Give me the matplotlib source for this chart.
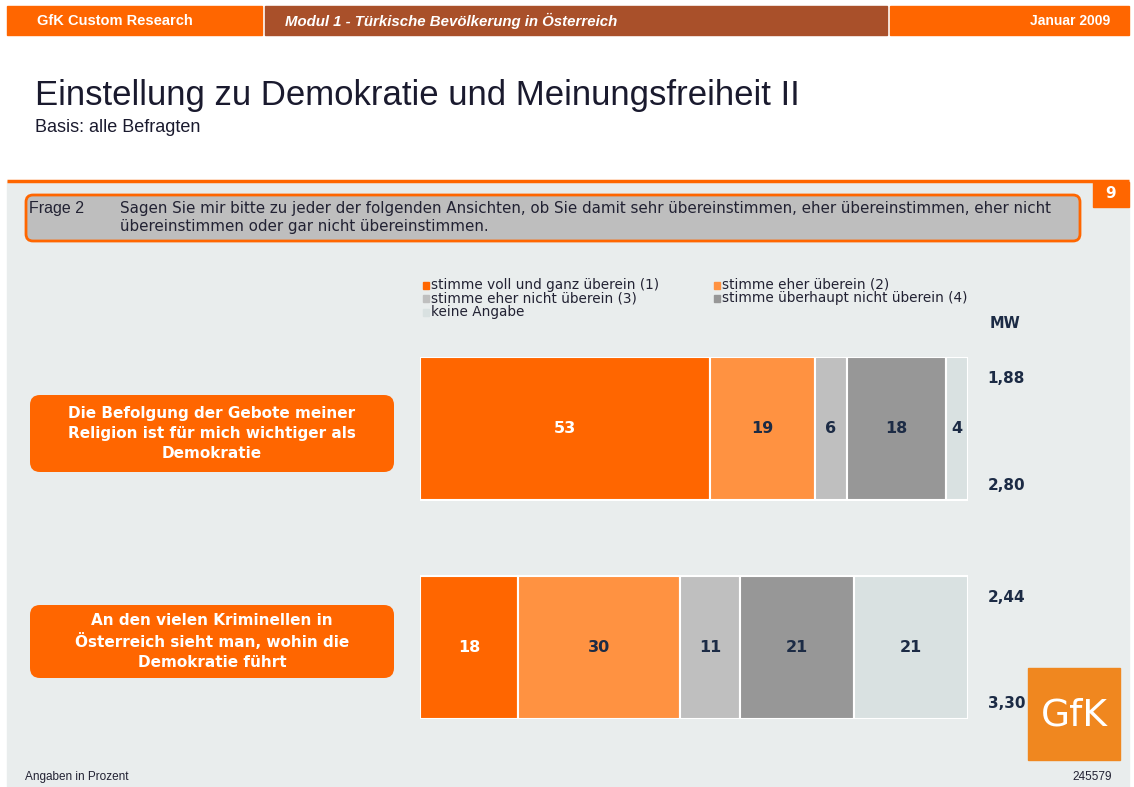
import numpy as np
import matplotlib
matplotlib.use("Agg")
import matplotlib.pyplot as plt
from matplotlib.patches import Rectangle, FancyBboxPatch
from matplotlib.transforms import blended_transform_factory
from matplotlib import font_manager

# ---------------- data ----------------
statements = [
    "Die Befolgung der Gebote meiner\nReligion ist für mich wichtiger als\nDemokratie",
    "An den vielen Kriminellen in\nÖsterreich sieht man, wohin die\nDemokratie führt",
]
categories = [
    "stimme voll und ganz überein (1)",
    "stimme eher überein (2)",
    "stimme eher nicht überein (3)",
    "stimme überhaupt nicht überein (4)",
    "keine Angabe",
]
values = [
    [53, 19, 6, 18, 4],
    [18, 30, 11, 21, 21],
]
mw_top = ["1,88", "2,44"]
mw_bottom = ["2,80", "3,30"]

colors = ["#FF6600", "#FF9241", "#BFBFBF", "#979797", "#D9E1E1"]
label_colors = ["white", "#1C2B45", "#1C2B45", "#1C2B45", "#1C2B45"]
ORANGE = "#FF6600"
BROWN = "#A9502A"
BG = "#E9EDED"
NAVY = "#1C2B45"

avail = {f.name for f in font_manager.fontManager.ttflist}
NARROW = "Liberation Sans Narrow" if "Liberation Sans Narrow" in avail else "Liberation Sans"
plt.rcParams["font.family"] = ["DejaVu Sans"]

W, H = 1134, 787
fig = plt.figure(figsize=(W / 100, H / 100), dpi=100)
fig.patch.set_facecolor("white")

# background / decoration axes in pixel coordinates
bg = fig.add_axes([0, 0, 1, 1])
bg.set_xlim(0, W); bg.set_ylim(H, 0); bg.axis("off")

# header strip
bg.add_patch(Rectangle((7, 6), 255, 29, color=ORANGE))
bg.add_patch(Rectangle((265, 6), 622, 29, color=BROWN))
bg.add_patch(Rectangle((890, 6), 239, 29, color=ORANGE))
bg.text(37, 21, "GfK Custom Research", color="white", fontsize=10.5, weight="bold",
        va="center", family=NARROW)
bg.text(285, 21, "Modul 1 - Türkische Bevölkerung in Österreich", color="white",
        fontsize=10.8, weight="bold", style="italic", va="center", family=NARROW)
bg.text(1110, 21, "Januar 2009", color="white", fontsize=10, weight="bold",
        va="center", ha="right", family=NARROW)

# title
bg.text(35, 95, "Einstellung zu Demokratie und Meinungsfreiheit II", fontsize=25,
        color="#1A1A2E", va="center", family=NARROW)
bg.text(35, 128, "Basis: alle Befragten", fontsize=13, color="#1A1A2E",
        va="center", family=NARROW)

# grey body + orange rule
bg.add_patch(Rectangle((7, 181), 1122, H - 181, color=BG))
bg.plot([7, 1129], [180.5, 180.5], color=ORANGE, lw=2.5, solid_capstyle="butt")
bg.add_patch(Rectangle((1093, 182), 36, 25, color=ORANGE))
bg.text(1111, 194, "9", color="white", fontsize=11, weight="bold", ha="center", va="center")

# question box
bg.add_patch(FancyBboxPatch((26, 195), 1054, 46, boxstyle="round,pad=0,rounding_size=7",
                            fc="#BEBEBE", ec=ORANGE, lw=2))
bg.text(29, 209, "Frage 2", fontsize=11.5, color="#222233", va="center", family=NARROW)
bg.text(120, 209, "Sagen Sie mir bitte zu jeder der folgenden Ansichten, ob Sie damit sehr "
        "übereinstimmen, eher übereinstimmen, eher nicht", fontsize=10.9, color="#222233",
        va="center")
bg.text(120, 226, "übereinstimmen oder gar nicht übereinstimmen.", fontsize=10.9,
        color="#222233", va="center")

# legend
leg_pos = [(423, 285), (714, 285), (423, 298), (714, 298), (423, 312)]
for (lx, ly), cat, col in zip(leg_pos, categories, colors):
    bg.add_patch(Rectangle((lx, ly - 3.5), 6, 7, color=col))
    bg.text(lx + 8, ly, cat, fontsize=9.8, color="#222233", va="center")

bg.text(990, 323, "MW", fontsize=10.5, weight="bold", color=NAVY, va="center")

# statement boxes
box_y = [(395, 77), (605, 73)]
for (by, bh), txt in zip(box_y, statements):
    bg.add_patch(FancyBboxPatch((30, by), 364, bh, boxstyle="round,pad=0,rounding_size=10",
                                fc=ORANGE, ec="none"))
    bg.text(212, by + bh / 2, txt, color="white", fontsize=11, weight="bold",
            ha="center", va="center", linespacing=1.4)

# footer
bg.text(25, 777, "Angaben in Prozent", fontsize=8.5, color="#222233", va="center",
        family=NARROW)
bg.text(1112, 777, "245579", fontsize=8.5, color="#222233", va="center", ha="right",
        family=NARROW)

# ---------------- bars ----------------
ax = fig.add_axes([420 / W, 1 - 719 / H, 548 / W, 362 / H])
ax.set_xlim(0, 100)
ax.set_ylim(-0.3265, 1.3265)
ax.axis("off")
ypos = [1, 0]
bar_h = 0.653
for yi, vals, top, bot in zip(ypos, values, mw_top, mw_bottom):
    arr = np.array(vals, dtype=float)
    widths = arr / arr.sum() * 100
    left = 0.0
    for v, w_, col, lc in zip(vals, widths, colors, label_colors):
        ax.barh(yi, w_, left=left, height=bar_h, color=col, edgecolor="white", linewidth=1.5)
        ax.text(left + w_ / 2, yi, str(v), ha="center", va="center", fontsize=11.5,
                weight="bold", color=lc)
        left += w_
    tr = blended_transform_factory(ax.transAxes, ax.transData)
    ax.text(1.036, yi + 0.23, top, transform=tr, fontsize=11, weight="bold",
            color=NAVY, va="center", ha="left")
    ax.text(1.036, yi - 0.258, bot, transform=tr, fontsize=11, weight="bold",
            color=NAVY, va="center", ha="left")

# GfK logo block
bg2 = fig.add_axes([0, 0, 1, 1], zorder=5)
bg2.set_xlim(0, W); bg2.set_ylim(H, 0); bg2.axis("off")
bg2.add_patch(Rectangle((1028, 668), 92, 92, color="#F0871F"))
bg2.text(1074, 716, "GfK", color="white", fontsize=27, ha="center", va="center")

fig.savefig("out.png", dpi=100)
